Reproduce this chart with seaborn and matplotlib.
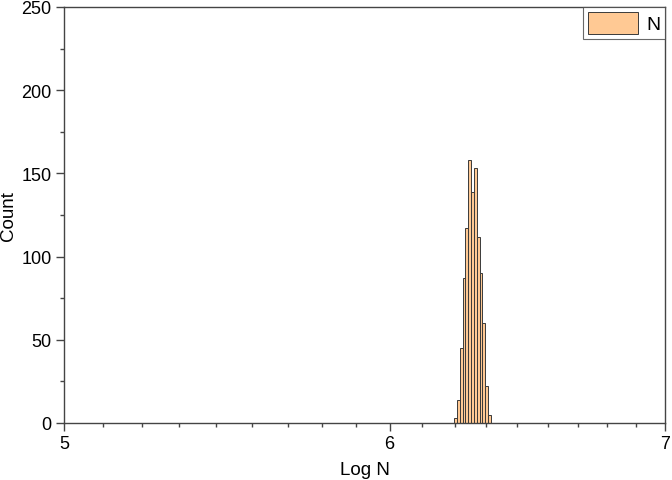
import numpy as np
import pandas as pd
import matplotlib
matplotlib.use("Agg")
import matplotlib.pyplot as plt
import matplotlib.ticker as mticker
import seaborn as sns

# ─────────────────────────────────────────
# DATA — histogram of Log N
# ─────────────────────────────────────────
bin_edges = [6.22, 6.23, 6.24, 6.25, 6.26, 6.27, 6.28,
             6.29, 6.30, 6.31, 6.32, 6.33, 6.34, 6.35]
counts = [3, 14, 45, 87, 117, 158, 139, 153, 112, 90, 60, 22, 5]
x_major = [5, 6, 7]
x_major_labels = ["5", "6", "7"]
y_major = [0, 50, 100, 150, 200, 250]

centers = [(a + b) / 2 for a, b in zip(bin_edges[:-1], bin_edges[1:])]
df = pd.DataFrame({"logN": centers, "count": counts})

# ─────────────────────────────────────────
# PLOT
# ─────────────────────────────────────────
sns.set_style("ticks")
plt.rcParams["font.family"] = ["Liberation Sans", "DejaVu Sans"]
plt.rcParams["text.color"] = "black"
plt.rcParams["axes.labelcolor"] = "black"
plt.rcParams["xtick.labelcolor"] = "black"
plt.rcParams["ytick.labelcolor"] = "black"

fig = plt.figure(figsize=(6.72, 4.81), dpi=100)
ax = fig.add_axes([64 / 672, 57 / 481, 601 / 672, 416 / 481])

sns.histplot(data=df, x="logN", weights="count", bins=bin_edges,
             color="#FFC994", alpha=1, edgecolor="#3a3a3a", linewidth=0.7,
             label="N", ax=ax)

ax.set_xscale("log")
ax.set_xlim(5, 7)
ax.set_ylim(0, 250)

# major / minor ticks (Origin style: 8 minor ticks per interval)
ax.xaxis.set_major_locator(mticker.FixedLocator(x_major))
ax.xaxis.set_major_formatter(mticker.FixedFormatter(x_major_labels))
minor_x = [a + k * (b - a) / 9 for a, b in zip(x_major[:-1], x_major[1:]) for k in range(1, 9)]
ax.xaxis.set_minor_locator(mticker.FixedLocator(minor_x))
ax.xaxis.set_minor_formatter(mticker.NullFormatter())
ax.yaxis.set_major_locator(mticker.FixedLocator(y_major))
ax.yaxis.set_minor_locator(mticker.MultipleLocator(25))

ax.tick_params(axis="both", which="major", direction="out", length=6,
               width=1, color="#444444", labelsize=13)
ax.tick_params(axis="x", which="major", pad=3)
ax.tick_params(axis="y", which="major", pad=3)
ax.tick_params(axis="both", which="minor", direction="out", length=3,
               width=1, color="#444444")

for side in ["left", "bottom", "top", "right"]:
    ax.spines[side].set_visible(True)
    ax.spines[side].set_color("#444444")
    ax.spines[side].set_linewidth(1)

ax.set_xlabel("Log N", fontsize=13.5, labelpad=6)
ax.set_ylabel("Count", fontsize=13.5, labelpad=3)

leg = ax.legend(loc="upper right", frameon=True, fancybox=False,
                borderaxespad=0, fontsize=14, handlelength=2.6,
                handleheight=1.35, borderpad=0.25, handletextpad=0.4)
leg.get_frame().set_edgecolor("#444444")
leg.get_frame().set_linewidth(0.8)

plt.savefig("out.png", dpi=100)
